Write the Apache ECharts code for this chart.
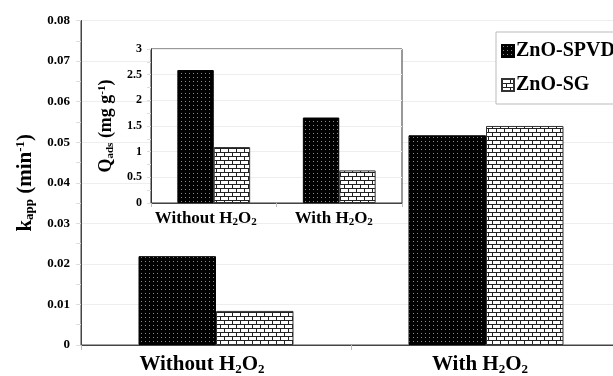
<!DOCTYPE html>
<html>
<head>
<meta charset="utf-8">
<script src="https://cdn.jsdelivr.net/npm/echarts@6/dist/echarts.min.js"></script>
<style>
  html, body { margin: 0; padding: 0; background: #fff; overflow: hidden; }
  /* the plot frame runs past the right edge of the page, so the canvas is wider than the view */
  #chart { width: 640px; height: 376px; }
</style>
</head>
<body>
<div id="chart"></div>
<script>
// Apparent rate constants (main plot) and adsorption capacity (inset)
const categories = ['Without H2O2', 'With H2O2'];
const seriesNames = ['ZnO-SPVD', 'ZnO-SG'];
const kappSPVD = [0.0219, 0.0517];
const kappSG = [0.0084, 0.0540];
const qadsSPVD = [2.59, 1.665];
const qadsSG = [1.09, 0.635];
const kappTicks = { min: 0, max: 0.08, interval: 0.01 };
const qadsTicks = { min: 0, max: 3, interval: 0.5 };

const FONT = '"Liberation Serif", "Times New Roman", serif';

// Black fill with small light dots
function dotPattern() {
  const c = document.createElement('canvas');
  c.width = 4; c.height = 4;
  const g = c.getContext('2d');
  g.fillStyle = '#000';
  g.fillRect(0, 0, 4, 4);
  g.fillStyle = '#8a8a8a';
  g.fillRect(1, 1, 1, 1);
  return c;
}
// White fill with a brick pattern
function brickPattern() {
  const c = document.createElement('canvas');
  c.width = 8; c.height = 8;
  const g = c.getContext('2d');
  g.fillStyle = '#fff';
  g.fillRect(0, 0, 8, 8);
  g.fillStyle = '#222';
  g.fillRect(0, 0, 8, 1);
  g.fillRect(0, 4, 8, 1);
  g.fillRect(0, 0, 1, 4);
  g.fillRect(4, 4, 1, 4);
  return c;
}
const dotFill = { image: dotPattern(), repeat: 'repeat' };
const brickFill = { image: brickPattern(), repeat: 'repeat' };

// category label with subscripts; a trailing spacer nudges each label left
function catLabelWith(spacers) {
  return function (v, i) {
    return v.replace(/H2O2/, 'H{sub|2}O{sub|2}') + '{sp|' + ' ' + '}' + (spacers[i] ? '{' + spacers[i] + '| }' : '');
  };
}
function richFor(size) {
  return {
    sub: { fontFamily: FONT, fontWeight: 'bold', fontSize: Math.round(size * 0.62), verticalAlign: 'bottom', padding: [Math.round(size * 0.45), 0, 0, 0] },
    sup: { fontFamily: FONT, fontWeight: 'bold', fontSize: Math.round(size * 0.62), verticalAlign: 'top', padding: [0, 0, Math.round(size * 0.45), 0] },
    sp: { fontSize: 1, width: 0 },
    s28: { fontSize: 1, width: 28 },
    s12: { fontSize: 1, width: 12 },
    s16: { fontSize: 1, width: 16 },
    s11: { fontSize: 1, width: 11 }
  };
}

const chart = echarts.init(document.getElementById('chart'), null, { renderer: 'canvas' });

const option = {
  animation: false,
  backgroundColor: '#fff',
  legend: {
    orient: 'vertical',
    left: 496,
    top: 32,
    padding: [9, 40, 9, 5],
    itemGap: 14,
    itemWidth: 12,
    itemHeight: 12,
    borderColor: '#bbb',
    borderWidth: 1,
    backgroundColor: '#fff',
    icon: 'rect',
    data: seriesNames,
    textStyle: { fontFamily: FONT, fontWeight: 'bold', fontSize: 20, color: '#000', padding: [0, 0, 0, -3] },
    z: 10
  },
  grid: [
    { left: 81, top: 20.5, width: 540, height: 330, show: true, borderColor: '#444', borderWidth: 1, backgroundColor: 'transparent', containLabel: false },
    { left: 151, top: 49, width: 251, height: 154, show: true, borderColor: '#333', borderWidth: 1, backgroundColor: '#fff', z: 5 }
  ],
  xAxis: [
    {
      gridIndex: 0, type: 'category', data: categories,
      axisLine: { lineStyle: { color: '#444', width: 1 } },
      axisTick: { show: true, length: 5, lineStyle: { color: '#bbb' } },
      axisLabel: {
        interval: 0, hideOverlap: false,
        fontFamily: FONT, fontWeight: 'bold', fontSize: 21, color: '#000', margin: 9,
        formatter: catLabelWith(['s28', 's12']), rich: richFor(21)
      }
    },
    {
      gridIndex: 1, type: 'category', data: categories, z: 6,
      axisLine: { lineStyle: { color: '#444', width: 1 } },
      axisTick: { show: true, length: 4, lineStyle: { color: '#bbb' } },
      axisLabel: {
        interval: 0, hideOverlap: false,
        fontFamily: FONT, fontWeight: 'bold', fontSize: 17, color: '#000', margin: 6,
        formatter: catLabelWith(['s16', 's11']), rich: richFor(17)
      }
    }
  ],
  yAxis: [
    {
      gridIndex: 0, type: 'value', min: kappTicks.min, max: kappTicks.max, interval: kappTicks.interval,
      name: 'k{sub|app} (min{sup|-1})',
      nameLocation: 'middle', nameGap: 42, nameRotate: 90,
      nameTextStyle: { fontFamily: FONT, fontWeight: 'bold', fontSize: 21, color: '#000', rich: richFor(21) },
      axisLine: { show: true, lineStyle: { color: '#444', width: 1 } },
      axisTick: { show: true, length: 5, lineStyle: { color: '#ddd' } },
      minorTick: { show: true, splitNumber: 2, length: 5, lineStyle: { color: '#ddd' } },
      splitLine: { show: true, lineStyle: { color: '#eee', width: 1 } },
      axisLabel: {
        fontFamily: FONT, fontWeight: 'bold', fontSize: 13, color: '#000', margin: 11,
        formatter: v => v === 0 ? '0' : v.toFixed(2)
      }
    },
    {
      gridIndex: 1, type: 'value', min: qadsTicks.min, max: qadsTicks.max, interval: qadsTicks.interval, z: 6,
      name: 'Q{sub|ads} (mg g{sup|-1})',
      nameLocation: 'middle', nameGap: 35, nameRotate: 90,
      nameTextStyle: { fontFamily: FONT, fontWeight: 'bold', fontSize: 18, color: '#000', rich: richFor(18) },
      axisLine: { show: true, lineStyle: { color: '#333', width: 1 } },
      axisTick: { show: true, length: 4, lineStyle: { color: '#ddd' } },
      minorTick: { show: true, splitNumber: 2, length: 4, lineStyle: { color: '#ddd' } },
      splitLine: { show: true, lineStyle: { color: '#eee', width: 1 } },
      axisLabel: {
        fontFamily: FONT, fontWeight: 'bold', fontSize: 12, color: '#000', margin: 9,
        formatter: v => String(v)
      }
    }
  ],
  series: [
    {
      name: seriesNames[0], type: 'bar', xAxisIndex: 0, yAxisIndex: 0, data: kappSPVD,
      barGap: '0%', barCategoryGap: '42.6%',
      itemStyle: { color: dotFill, borderColor: '#000', borderWidth: 1 }
    },
    {
      name: seriesNames[1], type: 'bar', xAxisIndex: 0, yAxisIndex: 0, data: kappSG,
      barGap: '0%', barCategoryGap: '42.6%',
      itemStyle: { color: brickFill, borderColor: '#333', borderWidth: 1 }
    },
    {
      name: seriesNames[0], type: 'bar', xAxisIndex: 1, yAxisIndex: 1, data: qadsSPVD, z: 7,
      barGap: '0%', barCategoryGap: '42%',
      itemStyle: { color: dotFill, borderColor: '#000', borderWidth: 1 }
    },
    {
      name: seriesNames[1], type: 'bar', xAxisIndex: 1, yAxisIndex: 1, data: qadsSG, z: 7,
      barGap: '0%', barCategoryGap: '42%',
      itemStyle: { color: brickFill, borderColor: '#333', borderWidth: 1 }
    }
  ]
};
chart.setOption(option);
</script>
</body>
</html>
